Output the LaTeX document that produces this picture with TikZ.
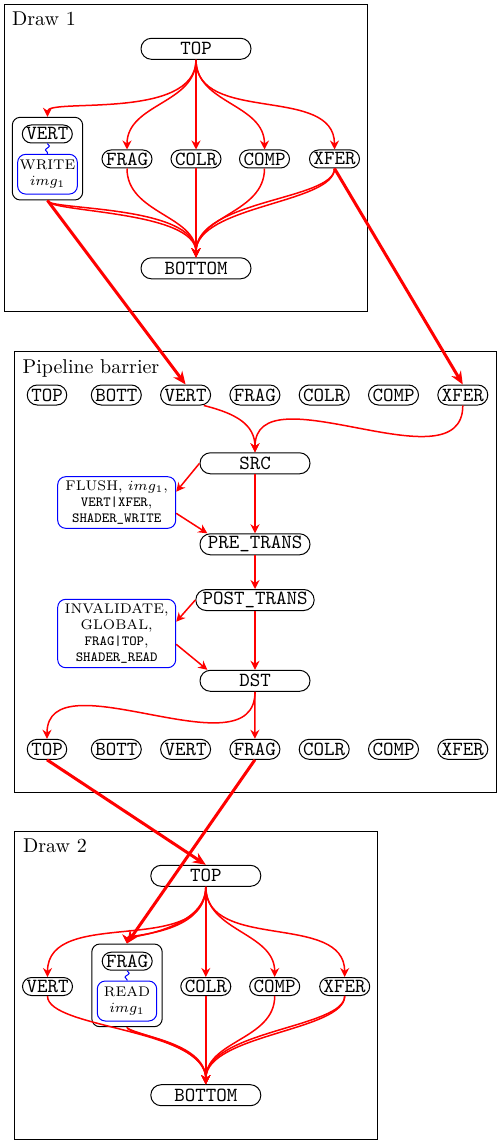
\documentclass[tikz,border=0pt]{standalone}
\usetikzlibrary{arrows.meta,decorations.pathmorphing}
\begin{document}
\begin{tikzpicture}[x=0.5pt,y=-0.5pt,
  stage/.style={draw, line width=0.5pt, rounded corners=4.5pt, font=\ttfamily, inner xsep=2pt, inner ysep=0pt, minimum height=9pt},
  pstage/.style={stage, minimum height=10pt, rounded corners=5pt},
  bigstage/.style={draw, line width=0.5pt, rounded corners=5.2pt, font=\ttfamily, minimum width=55pt, minimum height=10.5pt, inner ysep=0pt},
  memop/.style={draw=blue, line width=0.5pt, rounded corners=4pt, align=center, font=\scriptsize, inner sep=1pt},
  group/.style={draw, line width=0.5pt, rounded corners=4pt, minimum width=35.2pt, minimum height=41.35pt},
  frame/.style={draw, line width=0.5pt},
  title/.style={anchor=base west, inner sep=0pt},
  dep/.style={red, line width=0.75pt, -{Stealth[length=4.5pt,width=4.5pt]}},
  xdep/.style={red, line width=1.5pt, -{Stealth[length=6.5pt,width=5.5pt]}},
  zig/.style={blue, line width=0.5pt, decorate, decoration={snake, amplitude=1pt, segment length=4pt}}
]
\useasboundingbox (0,0) rectangle (500,1144);

% ---------------- Draw 1 ----------------
\draw[frame] (4.5,4.5) rectangle (367.5,312);
\node[title] (t1) at (11.7,26) {Draw 1};
\node[bigstage] (top1) at (196,48.8) {TOP};
\node[group] (box1) at (47.5,158.65) {};
\node[stage] (vert1) at (47.3,134) {VERT};
\node[memop, minimum width=29.8pt, minimum height=19.85pt] (write1) at (47.5,174.2) {WRITE\\$img_1$};
\node[stage] (frag1) at (127,159) {FRAG};
\node[stage] (colr1) at (196,159) {COLR};
\node[stage] (comp1) at (264.5,159) {COMP};
\node[stage] (xfer1) at (334.5,159) {XFER};
\node[bigstage] (bot1) at (196,268.3) {BOTTOM};
\draw[zig] (vert1.south) -- (write1.north);

\draw[dep] (top1.south) .. controls +(0,61) and +(0,-19) .. (box1.north);
\draw[dep] (top1.south) .. controls +(0,44) and +(0,-46) .. (frag1.north);
\draw[dep] (top1.south) -- (colr1.north);
\draw[dep] (top1.south) .. controls +(0,44) and +(0,-46) .. (comp1.north);
\draw[dep] (top1.south) .. controls +(0,65) and +(0,-65) .. (xfer1.north);

\draw[dep] (box1.south) .. controls +(0,10) and +(0,-53) .. (bot1.north);
\draw[dep] (box1.south) .. controls +(0,12) and +(0,-47) .. (bot1.north);
\draw[dep] (frag1.south) .. controls +(0,45) and +(0,-42) .. (bot1.north);
\draw[dep] (colr1.south) -- (bot1.north);
\draw[dep] (comp1.south) .. controls +(0,45) and +(0,-42) .. (bot1.north);
\draw[dep] (xfer1.south) .. controls +(0,32) and +(0,-58) .. (bot1.north);
\draw[dep] (xfer1.south) .. controls +(0,35) and +(0,-52) .. (bot1.north);

% ---------------- Pipeline barrier ----------------
\draw[frame] (14.3,351) rectangle (496,792.7);
\node[title] (t2) at (22.3,373) {Pipeline barrier};
\node[pstage] (ptop) at (47,395) {TOP};
\node[pstage] (pbott) at (116.3,395) {BOTT};
\node[pstage] (pvert) at (185.6,395) {VERT};
\node[pstage] (pfrag) at (254.9,395) {FRAG};
\node[pstage] (pcolr) at (324.2,395) {COLR};
\node[pstage] (pcomp) at (393.5,395) {COMP};
\node[pstage] (pxfer) at (462.8,395) {XFER};

\node[bigstage] (src) at (255,463.3) {SRC};
\node[bigstage] (pre) at (255,544.3) {PRE\_TRANS};
\node[bigstage] (post) at (255,600) {POST\_TRANS};
\node[bigstage] (dst) at (255,680.8) {DST};
\node[memop, minimum width=59pt, minimum height=25.8pt] (flush) at (116.7,502.5)
  {FLUSH, $img_1$,\\\texttt{VERT|XFER},\\\texttt{SHADER\_WRITE}};
\node[memop, minimum width=59pt, minimum height=34.2pt] (inv) at (116.7,633.5)
  {INVALIDATE,\\GLOBAL,\\\texttt{FRAG|TOP},\\\texttt{SHADER\_READ}};

\node[pstage] (qtop) at (47,749.3) {TOP};
\node[pstage] (qbott) at (116.3,749.3) {BOTT};
\node[pstage] (qvert) at (185.6,749.3) {VERT};
\node[pstage] (qfrag) at (254.9,749.3) {FRAG};
\node[pstage] (qcolr) at (324.2,749.3) {COLR};
\node[pstage] (qcomp) at (393.5,749.3) {COMP};
\node[pstage] (qxfer) at (462.8,749.3) {XFER};

\draw[dep] (pvert.-30) .. controls +(32,8) and +(0,-28) .. (src.north);
\draw[dep] (pxfer.south) .. controls +(0,83.5) and +(0,-83.5) .. (src.north);
\draw[dep] (src.west) -- ([yshift=5.4pt]flush.east);
\draw[dep] ([yshift=-5.4pt]flush.east) -- (pre.167);
\draw[dep] (src.south) -- (pre.north);
\draw[dep] (pre.south) -- (post.north);
\draw[dep] (post.west) -- ([yshift=5.9pt]inv.east);
\draw[dep] ([yshift=-5.4pt]inv.east) -- (dst.167);
\draw[dep] (post.south) -- (dst.north);
\draw[dep] (dst.south) .. controls +(0,83.5) and +(0,-83.5) .. (qtop.north);
\draw[dep] (dst.south) -- (qfrag.north);

% ---------------- Draw 2 ----------------
\draw[frame] (14.7,831.7) rectangle (377.7,1139);
\node[title] (t3) at (22.7,852.3) {Draw 2};
\node[bigstage] (top2) at (205.8,875.8) {TOP};
\node[stage] (vert2) at (47.5,986.5) {VERT};
\node[group] (box2) at (127,985.35) {};
\node[stage] (frag2) at (127.2,961.2) {FRAG};
\node[memop, minimum width=29.7pt, minimum height=20pt] (read2) at (127,1001) {READ\\$img_1$};
\node[stage] (colr2) at (205.8,986.5) {COLR};
\node[stage] (comp2) at (274.7,986.5) {COMP};
\node[stage] (xfer2) at (344.7,986.5) {XFER};
\node[bigstage] (bot2) at (205.8,1095.2) {BOTTOM};
\draw[zig] (frag2.south) -- (read2.north);

\draw[dep] (top2.south) .. controls +(0,71.4) and +(0,-71.4) .. (vert2.north);
\draw[dep] (top2.south) .. controls +(0,48.3) and +(0,-9) .. (box2.north);
\draw[dep] (top2.south) .. controls +(0,43) and +(0,-6) .. (box2.north);
\draw[dep] (top2.south) -- (colr2.north);
\draw[dep] (top2.south) .. controls +(0,44.6) and +(0,-44.6) .. (comp2.north);
\draw[dep] (top2.south) .. controls +(0,65) and +(0,-65) .. (xfer2.north);

\draw[dep] (vert2.south) .. controls +(0,33) and +(0,-56) .. (bot2.north);
\draw[dep] (box2.south) .. controls +(0,8) and +(0,-44) .. (bot2.north);
\draw[dep] (box2.south) .. controls +(0,6) and +(0,-40) .. (bot2.north);
\draw[dep] (colr2.south) -- (bot2.north);
\draw[dep] (comp2.south) .. controls +(0,44) and +(0,-44) .. (bot2.north);
\draw[dep] (xfer2.south) .. controls +(0,32) and +(0,-54) .. (bot2.north);
\draw[dep] (xfer2.south) .. controls +(0,35) and +(0,-50) .. (bot2.north);

% ---------------- cross-section dependencies ----------------
\draw[xdep] (box1.south) -- (pvert.north);
\draw[xdep] (xfer1.south) -- (pxfer.north);
\draw[xdep] (qtop.south) -- (top2.north);
\draw[xdep] (qfrag.south) -- (box2.north);
\end{tikzpicture}
\end{document}
